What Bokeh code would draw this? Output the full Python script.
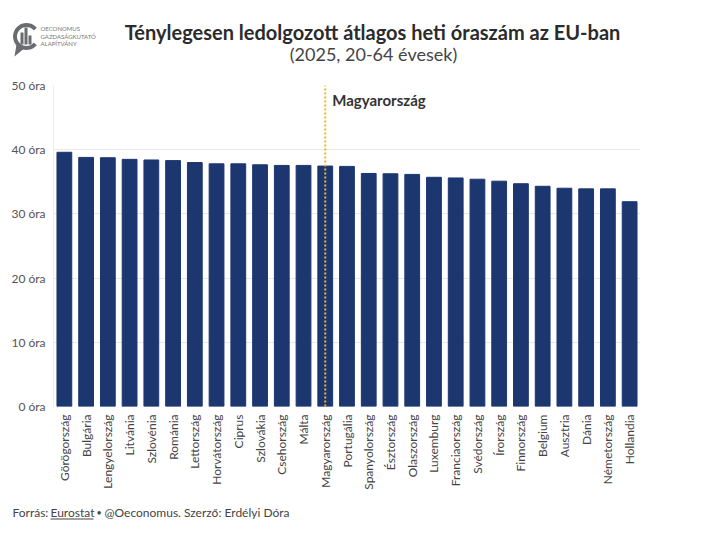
import math
from bokeh.plotting import figure
from bokeh.layouts import column, row
from bokeh.models import FactorRange, Range1d, PrintfTickFormatter, FixedTicker
from bokeh.core.properties import value
from bokeh.embed import file_html
from bokeh.resources import INLINE

countries = ["Görögország", "Bulgária", "Lengyelország", "Litvánia", "Szlovénia",
             "Románia", "Lettország", "Horvátország", "Ciprus", "Szlovákia",
             "Csehország", "Málta", "Magyarország", "Portugália", "Spanyolország",
             "Észtország", "Olaszország", "Luxemburg", "Franciaország", "Svédország",
             "Írország", "Finnország", "Belgium", "Ausztria", "Dánia",
             "Németország", "Hollandia"]
hours = [39.6, 38.8, 38.75, 38.5, 38.4, 38.3, 38.0, 37.8, 37.8, 37.65,
         37.55, 37.55, 37.45, 37.4, 36.3, 36.25, 36.15, 35.7, 35.6, 35.4,
         35.1, 34.7, 34.3, 34.0, 33.9, 33.9, 31.9]
y_ticks = [0, 10, 20, 30, 40, 50]
highlight = "Magyarország"

title_text = "Ténylegesen ledolgozott átlagos heti óraszám az EU-ban"
subtitle_text = "(2025, 20-64 évesek)"
logo_lines = ["OECONOMUS", "GAZDASÁGKUTATÓ", "ALAPÍTVÁNY"]
footer_parts = ["Forrás:", "Eurostat", "•", "@Oeconomus. Szerző: Erdélyi Dóra"]

FONT = "Lato"
W = 685
HEAD_H, MAIN_H, FOOT_H = 77, 419, 30
GREY = "#6b6c6f"


def canvas_fig(h):
    f = figure(width=W, height=h, x_range=Range1d(0, W), y_range=Range1d(h, 0),
               output_backend="svg", toolbar_location=None,
               x_axis_type=None, y_axis_type=None, min_border=0)
    f.outline_line_color = None
    f.xgrid.visible = False
    f.ygrid.visible = False
    return f


# ---------- header ----------
head = canvas_fig(HEAD_H)
head.text(x=[372], y=[31], text=[title_text], text_align="center",
          text_baseline="middle", text_font=value(FONT), text_font_style="bold",
          text_font_size="20px", text_color="#2b2b2b")
head.text(x=[373], y=[53], text=[subtitle_text], text_align="center",
          text_baseline="middle", text_font=value(FONT),
          text_font_size="18px", text_color="#444444")
cx, cy, ro, ri = 26, 36, 13.5, 9.5
angs = [math.radians(a) for a in range(40, 321, 10)]
arc_x = [cx + ro * math.cos(a) for a in angs] + [cx + ri * math.cos(a) for a in reversed(angs)]
arc_y = [cy - ro * math.sin(a) for a in angs] + [cy - ri * math.sin(a) for a in reversed(angs)]
head.patch(arc_x, arc_y, fill_color=GREY, line_color=None)
head.patch([16, 23, 14], [44, 48.5, 56], fill_color=GREY, line_color=None)
head.quad(left=[20, 24, 28], right=[23, 27, 31], top=[32, 27, 35], bottom=[44, 44, 44],
          fill_color=GREY, line_color=None)
head.text(x=[40, 40, 40], y=[28, 35.5, 43], text=logo_lines, text_font=value(FONT),
          text_font_size="6px", text_color="#777777", text_baseline="middle")

# ---------- main chart ----------
p = figure(x_range=FactorRange(*countries, range_padding=0),
           y_range=Range1d(0, 50), width=W, height=MAIN_H,
           output_backend="svg", toolbar_location=None,
           min_border_left=53, min_border_right=45, min_border_top=8,
           min_border_bottom=90)
p.outline_line_color = None

p.vbar(x=countries, top=hours, width=0.68, color="#1c3770")
p.segment(x0=[highlight], y0=[0], x1=[highlight], y1=[50],
          line_color="#f2b32a", line_width=2, line_dash="2 2")
p.text(x=[highlight], y=[47.8], text=["Magyarország"], x_offset=7,
       text_font=value(FONT), text_font_style="bold", text_font_size="15px",
       text_color="#333333", text_baseline="middle")

p.yaxis.ticker = FixedTicker(ticks=y_ticks)
p.yaxis.formatter = PrintfTickFormatter(format="%d óra")
p.yaxis.axis_line_color = "#eeeeee"
p.yaxis.major_tick_line_color = None
p.yaxis.major_tick_out = 0
p.yaxis.minor_tick_line_color = None
p.yaxis.minor_tick_out = 0
p.yaxis.major_label_text_font = FONT
p.yaxis.major_label_text_font_size = "12px"
p.yaxis.major_label_text_color = "#555555"
p.yaxis.major_label_standoff = 8

p.xaxis.axis_line_color = None
p.xaxis.major_tick_line_color = None
p.xaxis.major_tick_out = 0
p.xaxis.major_label_orientation = math.pi / 2
p.xaxis.major_label_text_font = FONT
p.xaxis.major_label_text_font_size = "12px"
p.xaxis.major_label_text_color = "#444444"
p.xaxis.major_label_standoff = 8

p.xgrid.grid_line_color = None
p.ygrid.grid_line_color = "#e8e8e8"

# ---------- footer ----------
foot = canvas_fig(FOOT_H)
foot.text(x=[12, 50, 96, 104], y=[16, 16, 16, 16], text=footer_parts,
          text_font=value(FONT), text_font_size=["12px", "12px", "9px", "12px"],
          text_color="#444444", text_baseline="middle")
foot.quad(left=[50], right=[93], top=[22], bottom=[23], fill_color="#444444",
          line_color=None)

layout = column(row(head), row(p), row(foot), spacing=0)
open("out.html", "w").write(file_html(layout, INLINE))
